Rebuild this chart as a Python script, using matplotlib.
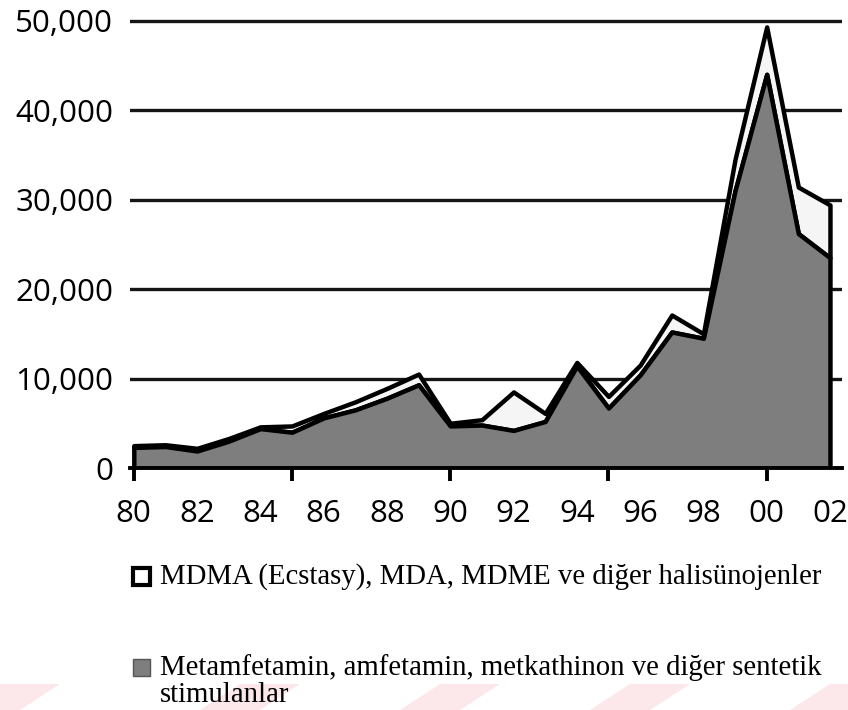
import matplotlib
matplotlib.use("Agg")
import matplotlib.pyplot as plt
from matplotlib.patches import Rectangle, Polygon

# Seizures by year (stacked area)
years = list(range(1980, 2003))
stimulants = [2300, 2400, 1900, 3000, 4400, 4000, 5600, 6500, 7800, 9300,
              4700, 4800, 4200, 5200, 11400, 6700, 10400, 15200, 14500,
              31000, 44000, 26200, 23500]
totals = [2500, 2600, 2200, 3300, 4600, 4700, 6100, 7400, 8900, 10500,
          5000, 5400, 8500, 6100, 11800, 8000, 11500, 17100, 15000,
          34500, 49300, 31400, 29400]
mdma = [t - s for t, s in zip(totals, stimulants)]

year_labels = ['80', '82', '84', '86', '88', '90', '92', '94', '96', '98', '00', '02']
label_years = list(range(1980, 2003, 2))
yticks = [0, 10000, 20000, 30000, 40000, 50000]
ytick_labels = ['0', '10,000', '20,000', '30,000', '40,000', '50,000']

legend_labels = ['MDMA (Ecstasy), MDA, MDME ve diğer halisünojenler',
                 'Metamfetamin, amfetamin, metkathinon ve diğer sentetik\nstimulanlar']

W, H = 848, 710
fig = plt.figure(figsize=(W / 100, H / 100), dpi=100)
ax = fig.add_axes([130 / W, 1 - 468 / H, 712 / W, (468 - 11.7) / H])

dark = '#7e7e7e'
light = '#f5f5f5'

# gridlines behind the areas
for v in yticks[1:]:
    ax.axhline(v, color='#151515', lw=2.4, zorder=0)

top_vals = [s + m for s, m in zip(stimulants, mdma)]
ax.fill_between(years, stimulants, top_vals, facecolor=light, edgecolor='black',
                lw=3.2, zorder=2)
ax.fill_between(years, 0, stimulants, facecolor=dark, edgecolor='black',
                lw=3.2, zorder=3)

ax.set_xlim(1979.88, 2002.38)
ax.set_ylim(0, 51000)

for s in ['top', 'right', 'left']:
    ax.spines[s].set_visible(False)
ax.spines['bottom'].set_linewidth(2.8)
ax.spines['bottom'].set_zorder(4)

tick_font = dict(family='Open Sans', size=22.5)
ax.set_yticks(yticks)
ax.set_yticklabels(ytick_labels, **tick_font)
ax.tick_params(axis='y', length=0, pad=12)

# labels every 2 years, tick marks every 5 years
ax.xaxis.remove_overlapping_locs = False
ax.set_xticks(label_years)
ax.set_xticklabels(year_labels, **tick_font)
ax.set_xticks([1980, 1985, 1990, 1995, 2000], minor=True)
ax.tick_params(axis='x', which='major', length=0, pad=22)
ax.tick_params(axis='x', which='minor', length=9, width=2.8, direction='out')

# legend drawn by hand below the chart
serif = dict(family='Liberation Serif', size=20.7)
fig.patches.append(Rectangle((133 / W, 1 - 585 / H), 17 / W, 17 / H,
                             transform=fig.transFigure, facecolor='white',
                             edgecolor='black', lw=3))
fig.text(160 / W, 1 - 577 / H, legend_labels[0], va='center', ha='left', **serif)

fig.patches.append(Rectangle((133 / W, 1 - 676 / H), 17 / W, 17 / H,
                             transform=fig.transFigure, facecolor=dark,
                             edgecolor='#555555', lw=1))
fig.text(160 / W, 1 - 681 / H, legend_labels[1], va='center', ha='left',
         linespacing=1.08, **serif)

# faint pink watermark stripes at the bottom
for x0 in [-40, 200, 400, 590, 790]:
    pts = [(x0, 710), (x0 + 60, 710), (x0 + 100, 684), (x0 + 40, 684)]
    fig.patches.append(Polygon([(px / W, 1 - py / H) for px, py in pts],
                               closed=True, transform=fig.transFigure,
                               facecolor='#fce8eb', edgecolor='none', zorder=-1))

fig.savefig('out.png', dpi=100)
